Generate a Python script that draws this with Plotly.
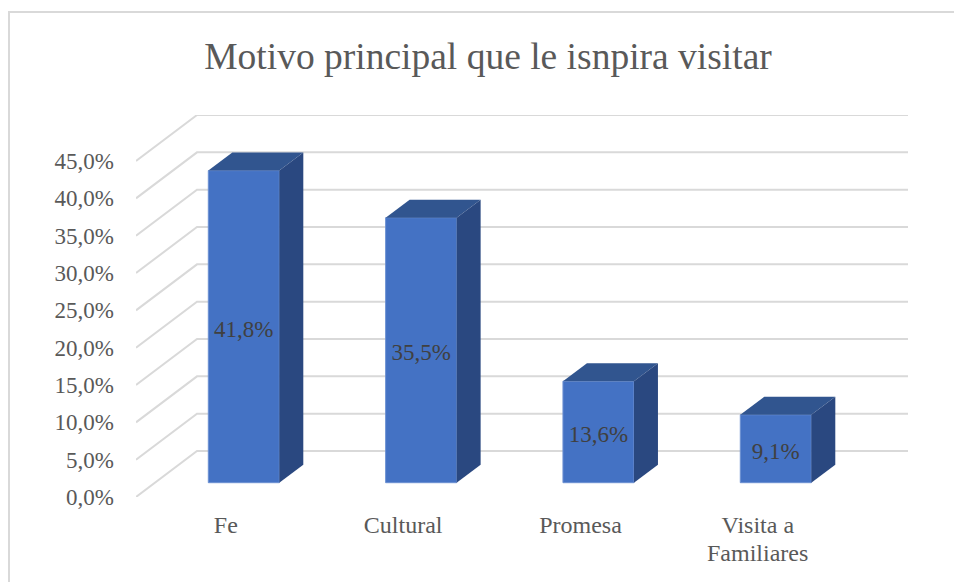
import plotly.graph_objects as go

categories = ['Fe', 'Cultural', 'Promesa', 'Visita a']
category_second_line = 'Familiares'
values = [41.8, 35.5, 13.6, 9.1]
labels = ['41,8%', '35,5%', '13,6%', '9,1%']
y_ticks = [0, 5, 10, 15, 20, 25, 30, 35, 40, 45]
y_tick_labels = ['0,0%', '5,0%', '10,0%', '15,0%', '20,0%', '25,0%', '30,0%', '35,0%', '40,0%', '45,0%']

# ----------- Layout of the fake 3D box -----------
WIDTH, HEIGHT = 954, 582
PLOT_L, PLOT_R, PLOT_T, PLOT_B = 136, 908, 115, 497
PX_PER_CAT = 177.33
PX_PER_UNIT = 7.466
CENTER_0 = 243.8

X_RANGE = [(PLOT_L - CENTER_0) / PX_PER_CAT, (PLOT_R - CENTER_0) / PX_PER_CAT]
Y_RANGE = [0, (PLOT_B - PLOT_T) / PX_PER_UNIT]

wall_dx = 61 / PX_PER_CAT
wall_dy = 46 / PX_PER_UNIT
bar_dx = 24 / PX_PER_CAT
bar_dy = 18 / PX_PER_UNIT
bar_width = 71 / PX_PER_CAT
bar_floor = 14.3 / PX_PER_UNIT
label_shift = 18 / PX_PER_CAT
label_drop = 4.3 / PX_PER_UNIT

GRID = '#D9D9D9'
FRONT = '#4472C4'
TOP = '#31558F'
SIDE = '#2A4880'
TEXT = '#595959'
SERIF = 'Liberation Serif'


def px_x(px):
    return (px - PLOT_L) / (PLOT_R - PLOT_L)


def px_y(px):
    return (PLOT_B - px) / (PLOT_B - PLOT_T)


positions = list(range(len(categories)))

fig = go.Figure()

# front faces
fig.add_trace(go.Bar(
    x=positions,
    y=values,
    base=bar_floor,
    width=bar_width,
    marker=dict(color=FRONT, line=dict(color='#6C90D2', width=1)),
    showlegend=False
))

# top and side faces, from the same values
for pos, val in zip(positions, values):
    left = pos - bar_width / 2
    right = pos + bar_width / 2
    bottom = bar_floor
    top = bar_floor + val
    fig.add_trace(go.Scatter(
        x=[left, right, right + bar_dx, left + bar_dx, left],
        y=[top, top, top + bar_dy, top + bar_dy, top],
        mode='lines', fill='toself', fillcolor=TOP,
        line=dict(width=0), showlegend=False, hoverinfo='skip'
    ))
    fig.add_trace(go.Scatter(
        x=[right, right + bar_dx, right + bar_dx, right, right],
        y=[bottom, bottom + bar_dy, top + bar_dy, top, bottom],
        mode='lines', fill='toself', fillcolor=SIDE,
        line=dict(width=0), showlegend=False, hoverinfo='skip'
    ))

# data labels sit a little under the middle of the front face
fig.add_trace(go.Scatter(
    x=positions,
    y=[bar_floor + v / 2 - label_drop for v in values],
    mode='text',
    text=labels,
    textposition='middle center',
    textfont=dict(family=SERIF, size=23, color='#404040'),
    showlegend=False,
    hoverinfo='skip'
))

# gridlines run along the floor diagonal and then across the back wall
shapes = []
for tick in y_ticks:
    shapes.append(dict(
        type='path', xref='x', yref='y', layer='below',
        path=f'M {X_RANGE[0]} {tick} L {X_RANGE[0] + wall_dx} {tick + wall_dy} L {X_RANGE[1]} {tick + wall_dy}',
        line=dict(color=GRID, width=2)
    ))

# chart frame, cut off by the screenshot on the right and at the bottom
shapes.append(dict(
    type='path', xref='paper', yref='paper', layer='below',
    path=f'M {px_x(9)} {px_y(HEIGHT + 5)} L {px_x(9)} {px_y(12)} L {px_x(WIDTH + 5)} {px_y(12)}',
    line=dict(color=GRID, width=2)
))

fig.update_xaxes(
    range=X_RANGE,
    tickmode='array',
    tickvals=[p - label_shift for p in positions],
    ticktext=categories,
    ticks='',
    ticklabelstandoff=11,
    tickfont=dict(family=SERIF, size=24, color=TEXT),
    showgrid=False,
    zeroline=False,
    showline=False,
    automargin=False
)
fig.update_yaxes(
    range=Y_RANGE,
    tickmode='array',
    tickvals=y_ticks,
    ticktext=y_tick_labels,
    ticks='',
    ticklabelstandoff=21,
    tickfont=dict(family=SERIF, size=23, color=TEXT),
    showgrid=False,
    zeroline=False,
    showline=False,
    automargin=False
)

# second line of the last category, set apart for the tighter line spacing
fig.add_annotation(
    x=positions[-1] - label_shift,
    y=px_y(553),
    xref='x',
    yref='paper',
    text=category_second_line,
    showarrow=False,
    yanchor='middle',
    font=dict(family=SERIF, size=24, color=TEXT)
)

fig.update_layout(
    width=WIDTH,
    height=HEIGHT,
    autosize=False,
    title=dict(
        text='Motivo principal que le isnpira visitar',
        x=488 / WIDTH,
        xanchor='center',
        y=1 - 56 / HEIGHT,
        yanchor='middle',
        automargin=False,
        font=dict(family=SERIF, size=37.5, color=TEXT)
    ),
    shapes=shapes,
    plot_bgcolor='white',
    paper_bgcolor='white',
    showlegend=False,
    margin=dict(l=PLOT_L, r=WIDTH - PLOT_R, t=PLOT_T, b=HEIGHT - PLOT_B, pad=0, autoexpand=False)
)

fig.write_html(
    "out.html",
    config=dict(displayModeBar=False),
    post_script="document.body.style.margin='0';document.documentElement.style.overflow='hidden';"
)
